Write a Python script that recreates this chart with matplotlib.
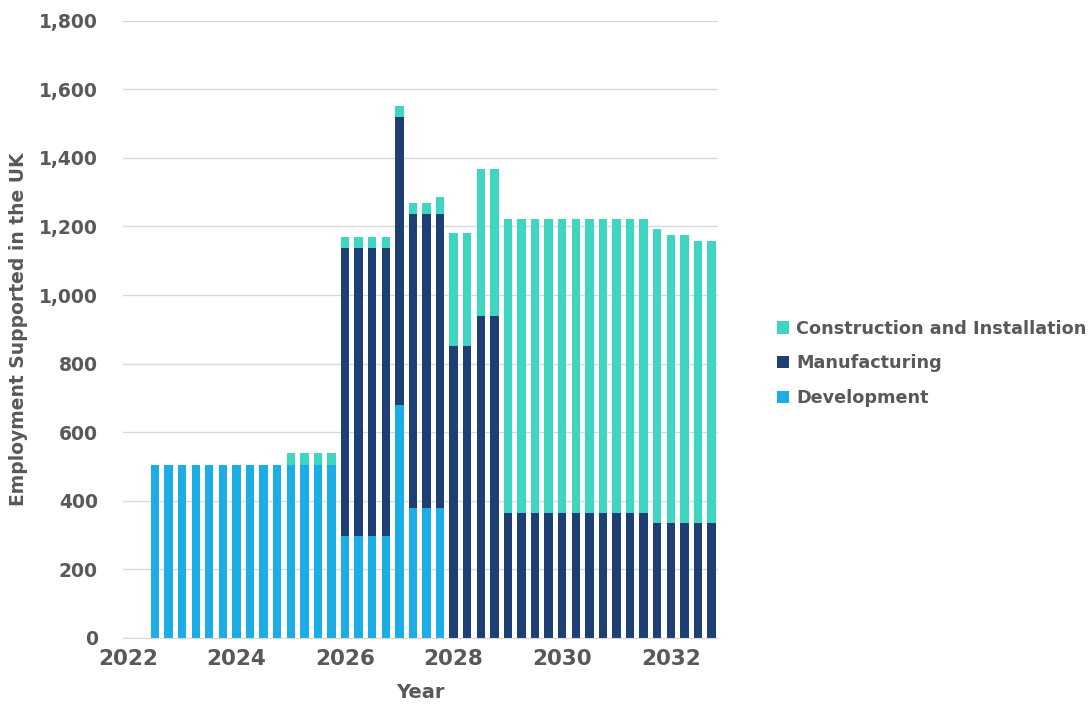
import matplotlib.pyplot as plt
import numpy as np
from matplotlib.ticker import FuncFormatter

# quarterly employment estimates, first bar is Q3 2022
start_year = 2022.5
development = [505, 505, 505, 505, 505, 505, 505, 505, 505, 505, 505, 505, 505, 505,
               297, 297, 297, 297, 678, 380, 380, 380,
               0, 0, 0, 0, 0, 0, 0, 0, 0, 0, 0, 0, 0, 0, 0, 0, 0, 0, 0, 0]
manufacturing = [0, 0, 0, 0, 0, 0, 0, 0, 0, 0, 0, 0, 0, 0,
                 841, 841, 841, 841, 840, 855, 855, 855,
                 852, 852, 939, 939,
                 363, 363, 363, 363, 363, 363, 363, 363, 363, 363, 363,
                 334, 334, 334, 334, 334]
construction = [0, 0, 0, 0, 0, 0, 0, 0, 0, 0, 33, 33, 33, 33,
                32, 32, 32, 32, 33, 32, 32, 52,
                328, 328, 428, 428,
                859, 859, 859, 859, 859, 859, 859, 859, 859, 859, 859,
                860, 841, 841, 823, 823]
series_names = ['Development', 'Manufacturing', 'Construction and Installation']
colors = ['#1BADE6', '#1D3F74', '#3FD6C1']

year_ticks = [2022, 2024, 2026, 2028, 2030, 2032]
grey = '#595959'

plt.rcParams['font.family'] = ['DejaVu Sans']
plt.rcParams['font.weight'] = 'bold'

fig = plt.figure(figsize=(10.9, 7.04), dpi=100)
ax = fig.add_axes([0.1128, 0.0938, 0.546, 0.8768])

x = start_year + 0.25 * np.arange(len(development))
bottom = np.zeros(len(x))
bars = []
for vals, name, c in zip([development, manufacturing, construction], series_names, colors):
    b = ax.bar(x, vals, width=0.155, bottom=bottom, color=c, label=name, linewidth=0)
    bars.append(b)
    bottom = bottom + np.array(vals)

ax.set_xlim(2021.91, 2032.87)
ax.set_ylim(0, 1800)
ax.set_yticks(range(0, 1801, 200))
ax.yaxis.set_major_formatter(FuncFormatter(lambda v, p: f'{int(v):,}'))
ax.set_xticks(year_ticks)
ax.grid(axis='y', color='#D9D9D9', linewidth=1)
ax.set_axisbelow(True)
for s in ['top', 'right', 'left']:
    ax.spines[s].set_visible(False)
ax.spines['bottom'].set_color('#D9D9D9')
ax.tick_params(axis='y', length=0, pad=18, labelsize=13.5, labelcolor=grey)
ax.tick_params(axis='x', length=0, pad=8, labelsize=15.5, labelcolor=grey)

ax.set_xlabel('Year', fontsize=14, color=grey, fontweight='bold', labelpad=10)
ax.set_ylabel('Employment Supported in the UK', fontsize=13.5, color=grey,
              fontweight='bold', labelpad=8)

handles = bars[::-1]
labels = series_names[::-1]
fig.legend(handles, labels, loc='center left', bbox_to_anchor=(0.698, 0.484),
           frameon=False, fontsize=12.7, labelcolor=grey, handlelength=0.7,
           handleheight=0.7, handletextpad=0.4, labelspacing=0.95)

fig.savefig('out.png', dpi=100)
